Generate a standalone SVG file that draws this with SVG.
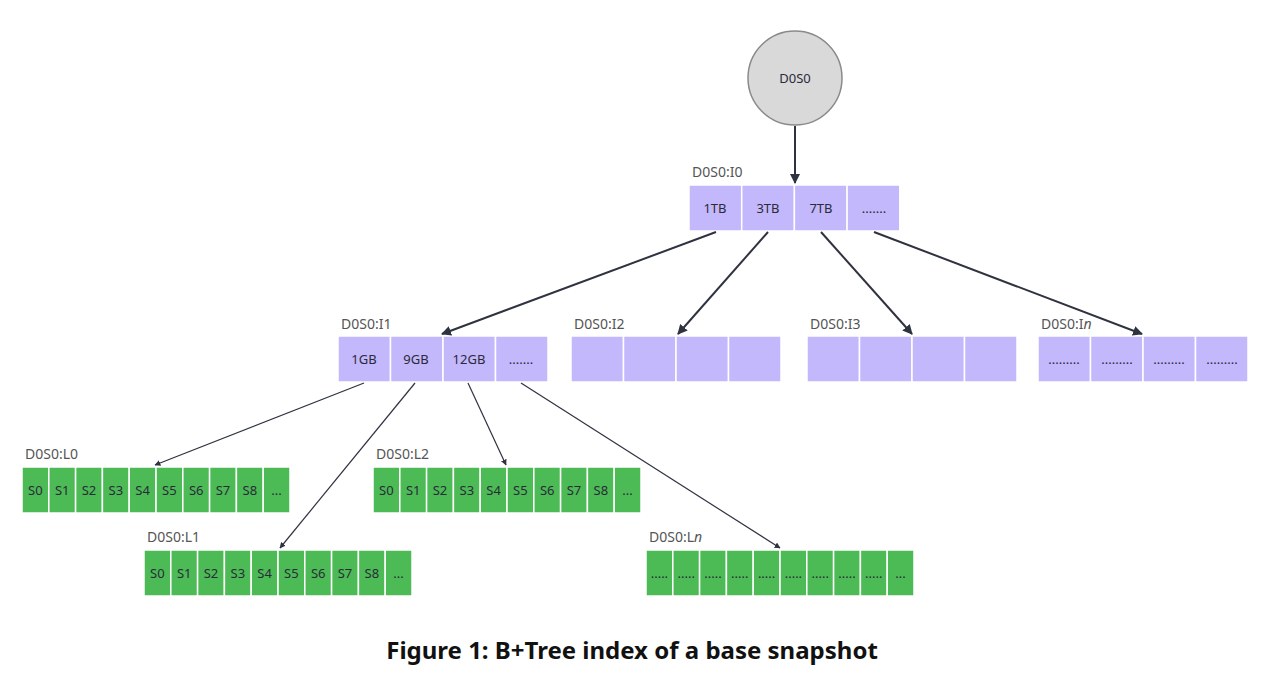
<svg xmlns="http://www.w3.org/2000/svg" width="1280" height="690" viewBox="0 0 1280 690">
<defs>
<marker id="ah" viewBox="0 0 10 10" refX="9" refY="5" markerWidth="5" markerHeight="5" orient="auto-start-reverse"><path d="M0,0 L10,5 L0,10 z" fill="#2f3340"/></marker>
<style>
.p{fill:#c3b8fb;stroke:#fff;stroke-width:1.5}
.g{fill:#4cbb55;stroke:#fff;stroke-width:1.5}
.lab{font-family:"Noto Sans",sans-serif;font-size:14px;fill:#555}
.t{font-family:"Noto Sans",sans-serif;font-size:13px;fill:#2a2a3a;text-anchor:middle}
.c1{stroke:#2f3340;stroke-width:2;fill:none;marker-end:url(#ah)}
.c2{stroke:#2f3340;stroke-width:1.2;fill:none;marker-end:url(#ah)}
</style>
</defs>
<rect width="1280" height="690" fill="#fff"/>
<g id="root"><circle cx="795" cy="78" r="47" fill="#d9d9d9" stroke="#8a8a8a" stroke-width="1.5"/><text x="795" y="83" class="t" font-size="14">D0S0</text></g>
<g id="I0"><text x="692" y="177" class="lab">D0S0:I0</text>
<rect class="p" x="689" y="185" width="52.7" height="46"/><rect class="p" x="741.7" y="185" width="52.7" height="46"/><rect class="p" x="794.4" y="185" width="52.7" height="46"/><rect class="p" x="847.1" y="185" width="52.7" height="46"/>
<text class="t" x="715" y="213">1TB</text><text class="t" x="768" y="213">3TB</text><text class="t" x="821" y="213">7TB</text><text class="t" x="874" y="213">.......</text></g>
<g id="I1"><text x="341" y="329" class="lab">D0S0:I1</text>
<rect class="p" x="338" y="336" width="52.5" height="46"/><rect class="p" x="390.5" y="336" width="52.5" height="46"/><rect class="p" x="443" y="336" width="52.5" height="46"/><rect class="p" x="495.5" y="336" width="52.5" height="46"/>
<text class="t" x="364" y="364">1GB</text><text class="t" x="416" y="364">9GB</text><text class="t" x="469" y="364">12GB</text><text class="t" x="521" y="364">.......</text></g>
<g id="I2"><text x="574" y="329" class="lab">D0S0:I2</text>
<rect class="p" x="571" y="336" width="52.5" height="46"/><rect class="p" x="623.5" y="336" width="52.5" height="46"/><rect class="p" x="676" y="336" width="52.5" height="46"/><rect class="p" x="728.5" y="336" width="52.5" height="46"/></g>
<g id="I3"><text x="810" y="329" class="lab">D0S0:I3</text>
<rect class="p" x="807" y="336" width="52.5" height="46"/><rect class="p" x="859.5" y="336" width="52.5" height="46"/><rect class="p" x="912" y="336" width="52.5" height="46"/><rect class="p" x="964.5" y="336" width="52.5" height="46"/></g>
<g id="In"><text x="1041" y="329" class="lab">D0S0:I<tspan font-style="italic">n</tspan></text>
<rect class="p" x="1038" y="336" width="52.5" height="46"/><rect class="p" x="1090.5" y="336" width="52.5" height="46"/><rect class="p" x="1143" y="336" width="52.5" height="46"/><rect class="p" x="1195.5" y="336" width="52.5" height="46"/>
<text class="t" x="1064" y="364">.........</text><text class="t" x="1117" y="364">.........</text><text class="t" x="1169" y="364">.........</text><text class="t" x="1222" y="364">.........</text></g>
<g id="L0" transform="translate(22,467)"><text x="3" y="-8" class="lab">D0S0:L0</text>
<g><rect class="g" x="0" y="0" width="26.8" height="46"/><rect class="g" x="26.8" y="0" width="26.8" height="46"/><rect class="g" x="53.6" y="0" width="26.8" height="46"/><rect class="g" x="80.4" y="0" width="26.8" height="46"/><rect class="g" x="107.2" y="0" width="26.8" height="46"/><rect class="g" x="134" y="0" width="26.8" height="46"/><rect class="g" x="160.8" y="0" width="26.8" height="46"/><rect class="g" x="187.6" y="0" width="26.8" height="46"/><rect class="g" x="214.4" y="0" width="26.8" height="46"/><rect class="g" x="241.2" y="0" width="26.8" height="46"/></g>
<g class="t"><text class="t" x="13.4" y="28">S0</text><text class="t" x="40.2" y="28">S1</text><text class="t" x="67" y="28">S2</text><text class="t" x="93.8" y="28">S3</text><text class="t" x="120.6" y="28">S4</text><text class="t" x="147.4" y="28">S5</text><text class="t" x="174.2" y="28">S6</text><text class="t" x="201" y="28">S7</text><text class="t" x="227.8" y="28">S8</text><text class="t" x="254.6" y="28">...</text></g></g>
<g id="L2" transform="translate(373,467)"><text x="3" y="-8" class="lab">D0S0:L2</text>
<g><rect class="g" x="0" y="0" width="26.8" height="46"/><rect class="g" x="26.8" y="0" width="26.8" height="46"/><rect class="g" x="53.6" y="0" width="26.8" height="46"/><rect class="g" x="80.4" y="0" width="26.8" height="46"/><rect class="g" x="107.2" y="0" width="26.8" height="46"/><rect class="g" x="134" y="0" width="26.8" height="46"/><rect class="g" x="160.8" y="0" width="26.8" height="46"/><rect class="g" x="187.6" y="0" width="26.8" height="46"/><rect class="g" x="214.4" y="0" width="26.8" height="46"/><rect class="g" x="241.2" y="0" width="26.8" height="46"/></g>
<text class="t" x="13.4" y="28">S0</text><text class="t" x="40.2" y="28">S1</text><text class="t" x="67" y="28">S2</text><text class="t" x="93.8" y="28">S3</text><text class="t" x="120.6" y="28">S4</text><text class="t" x="147.4" y="28">S5</text><text class="t" x="174.2" y="28">S6</text><text class="t" x="201" y="28">S7</text><text class="t" x="227.8" y="28">S8</text><text class="t" x="254.6" y="28">...</text></g>
<g id="L1" transform="translate(144,550)"><text x="3" y="-8" class="lab">D0S0:L1</text>
<g><rect class="g" x="0" y="0" width="26.8" height="46"/><rect class="g" x="26.8" y="0" width="26.8" height="46"/><rect class="g" x="53.6" y="0" width="26.8" height="46"/><rect class="g" x="80.4" y="0" width="26.8" height="46"/><rect class="g" x="107.2" y="0" width="26.8" height="46"/><rect class="g" x="134" y="0" width="26.8" height="46"/><rect class="g" x="160.8" y="0" width="26.8" height="46"/><rect class="g" x="187.6" y="0" width="26.8" height="46"/><rect class="g" x="214.4" y="0" width="26.8" height="46"/><rect class="g" x="241.2" y="0" width="26.8" height="46"/></g>
<text class="t" x="13.4" y="28">S0</text><text class="t" x="40.2" y="28">S1</text><text class="t" x="67" y="28">S2</text><text class="t" x="93.8" y="28">S3</text><text class="t" x="120.6" y="28">S4</text><text class="t" x="147.4" y="28">S5</text><text class="t" x="174.2" y="28">S6</text><text class="t" x="201" y="28">S7</text><text class="t" x="227.8" y="28">S8</text><text class="t" x="254.6" y="28">...</text></g>
<g id="Ln" transform="translate(646,550)"><text x="3" y="-8" class="lab">D0S0:L<tspan font-style="italic">n</tspan></text>
<g><rect class="g" x="0" y="0" width="26.8" height="46"/><rect class="g" x="26.8" y="0" width="26.8" height="46"/><rect class="g" x="53.6" y="0" width="26.8" height="46"/><rect class="g" x="80.4" y="0" width="26.8" height="46"/><rect class="g" x="107.2" y="0" width="26.8" height="46"/><rect class="g" x="134" y="0" width="26.8" height="46"/><rect class="g" x="160.8" y="0" width="26.8" height="46"/><rect class="g" x="187.6" y="0" width="26.8" height="46"/><rect class="g" x="214.4" y="0" width="26.8" height="46"/><rect class="g" x="241.2" y="0" width="26.8" height="46"/></g>
<text class="t" x="13.4" y="28">.....</text><text class="t" x="40.2" y="28">.....</text><text class="t" x="67" y="28">.....</text><text class="t" x="93.8" y="28">.....</text><text class="t" x="120.6" y="28">.....</text><text class="t" x="147.4" y="28">.....</text><text class="t" x="174.2" y="28">.....</text><text class="t" x="201" y="28">.....</text><text class="t" x="227.8" y="28">.....</text><text class="t" x="254.6" y="28">...</text></g>
<g id="connectors">
<line class="c1" x1="795" y1="126" x2="795" y2="183"/>
<line class="c1" x1="716" y1="232" x2="442" y2="334"/>
<line class="c1" x1="768" y1="232" x2="678" y2="334"/>
<line class="c1" x1="821" y1="232" x2="912" y2="334"/>
<line class="c1" x1="874" y1="232" x2="1142" y2="334"/>
<line class="c2" x1="364" y1="383" x2="155" y2="465"/>
<line class="c2" x1="415" y1="383" x2="280" y2="548"/>
<line class="c2" x1="468" y1="383" x2="506" y2="465"/>
<line class="c2" x1="521" y1="383" x2="780" y2="548"/>
</g>
<text x="632" y="659" font-family="'Noto Sans',sans-serif" font-weight="bold" font-size="24" text-anchor="middle" fill="#111">Figure 1: B+Tree index of a base snapshot</text>
</svg>
